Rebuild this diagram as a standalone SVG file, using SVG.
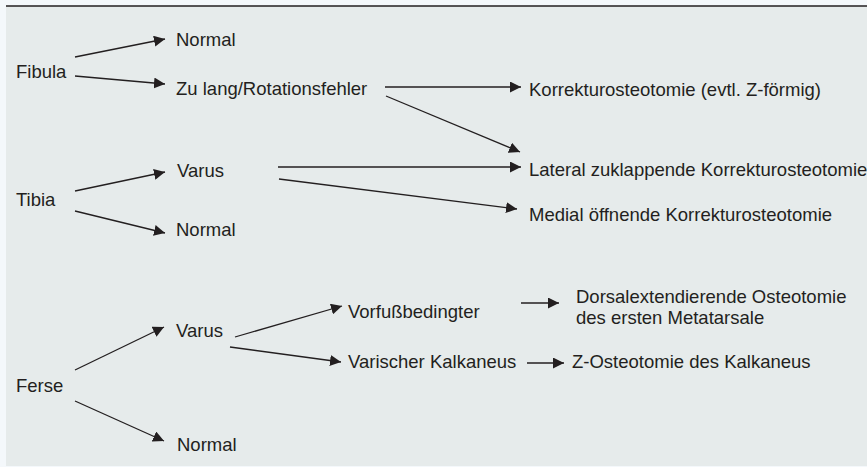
<svg xmlns="http://www.w3.org/2000/svg" width="867" height="467" viewBox="0 0 867 467">
<style>
text{font-family:"Liberation Sans",Arial,sans-serif;font-size:18.5px;fill:#231f20}
.c line{stroke:#231f20;stroke-width:1.3;marker-end:url(#ah)}
</style>
<defs>
<marker id="ah" markerUnits="userSpaceOnUse" markerWidth="11" markerHeight="11" viewBox="0 0 11 11" refX="11" refY="5.5" orient="auto">
<path d="M0,0 L11,5.5 L0,11 Z" fill="#231f20"/>
</marker>
</defs>
<rect width="867" height="467" fill="#f4f8fb"/>
<rect x="6" y="6" width="861" height="460" fill="#e6ebeb"/>
<line x1="6" y1="6" x2="867" y2="6" stroke="#231f20" stroke-width="1.4"/>
<g class="c" id="connectors">
<line x1="75" y1="57" x2="165" y2="39"/>
<line x1="75" y1="76" x2="165" y2="84"/>
<line x1="385" y1="87" x2="521" y2="87"/>
<line x1="386" y1="96" x2="520" y2="152"/>
<line x1="278" y1="167" x2="521" y2="167"/>
<line x1="279" y1="179" x2="517" y2="209"/>
<line x1="75" y1="191" x2="165" y2="172"/>
<line x1="75" y1="211" x2="165" y2="233"/>
<line x1="75" y1="370" x2="164" y2="327"/>
<line x1="75" y1="401" x2="164" y2="441"/>
<line x1="235" y1="337" x2="342" y2="306"/>
<line x1="230" y1="347" x2="341" y2="362"/>
<line x1="521" y1="303" x2="559" y2="303"/>
<line x1="527" y1="363" x2="564" y2="363"/>
</g>
<g id="fibula"><text x="16" y="78">Fibula</text></g>
<g id="fibula-normal"><text x="176" y="46">Normal</text></g>
<g id="zulang"><text x="176" y="95">Zu lang/Rotationsfehler</text></g>
<g id="korrektur"><text x="529" y="96">Korrekturosteotomie (evtl. Z-förmig)</text></g>
<g id="tibia"><text x="16" y="206">Tibia</text></g>
<g id="tibia-varus"><text x="177" y="177">Varus</text></g>
<g id="tibia-normal"><text x="176" y="236">Normal</text></g>
<g id="lateral"><text x="529" y="176">Lateral zuklappende Korrekturosteotomie</text></g>
<g id="medial"><text x="529" y="221">Medial öffnende Korrekturosteotomie</text></g>
<g id="ferse"><text x="16" y="392">Ferse</text></g>
<g id="ferse-varus"><text x="176" y="337">Varus</text></g>
<g id="ferse-normal"><text x="177" y="451">Normal</text></g>
<g id="vorfuss"><text x="348" y="318">Vorfußbedingter</text></g>
<g id="varischer"><text x="348" y="368">Varischer Kalkaneus</text></g>
<g id="dorsal"><text x="576" y="303">Dorsalextendierende Osteotomie</text><text x="576" y="324">des ersten Metatarsale</text></g>
<g id="zost"><text x="572" y="368">Z-Osteotomie des Kalkaneus</text></g>
</svg>
